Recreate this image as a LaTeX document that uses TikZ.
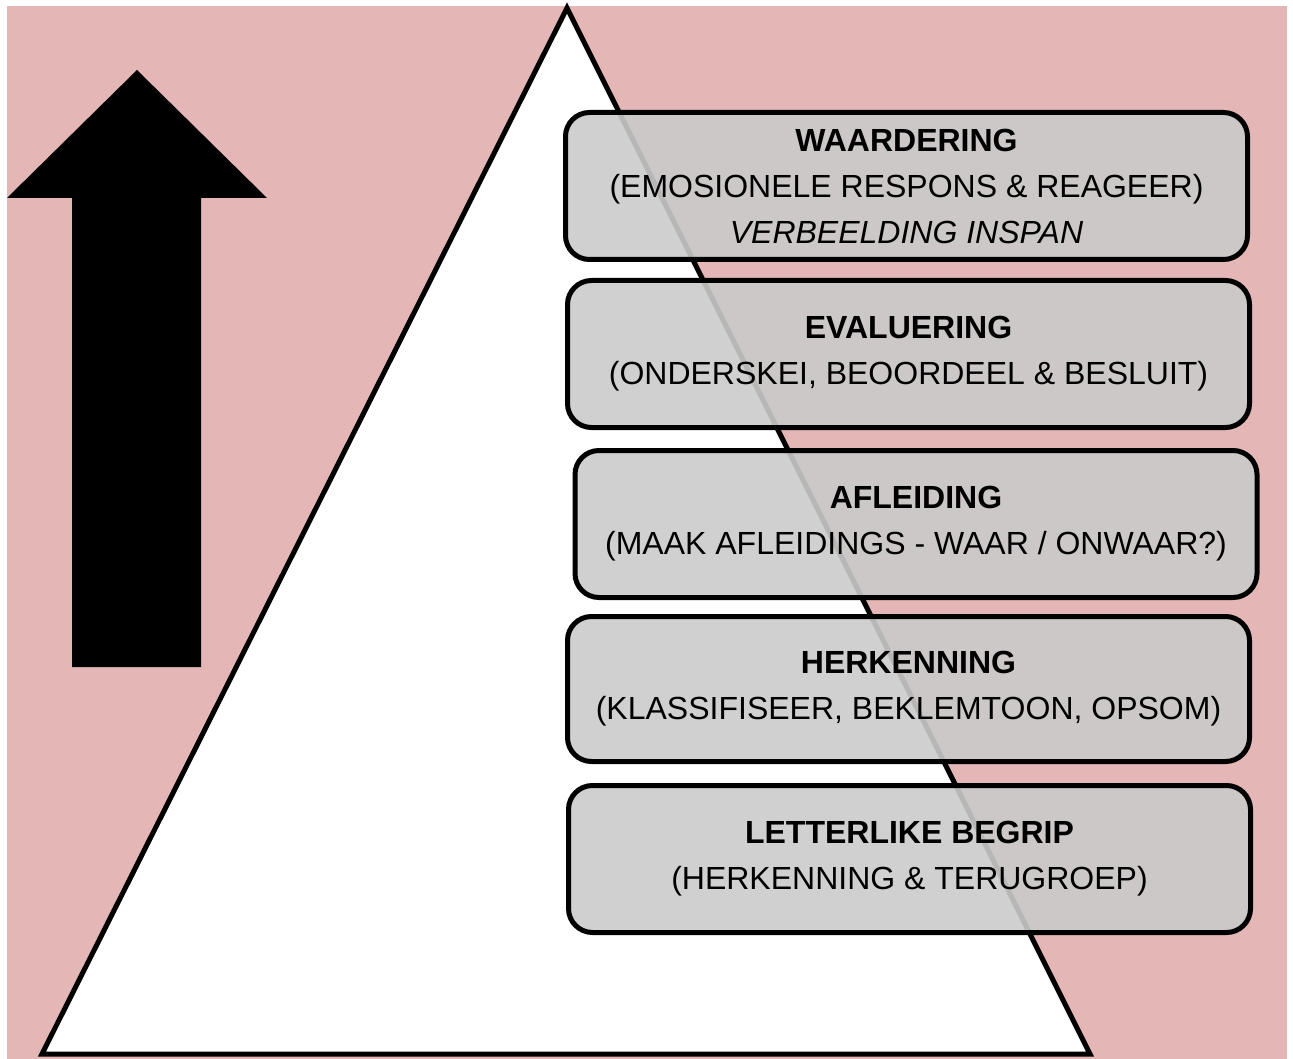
\documentclass[tikz,border=0pt]{standalone}
\usepackage{fontspec}
\setmainfont{Liberation Sans}
\usetikzlibrary{positioning}
\definecolor{bgpink}{HTML}{E4B6B6}
\definecolor{boxgrey}{HTML}{CBCBCB}
\tikzstyle{level} = [rectangle, draw, line width=5pt, fill=boxgrey, fill opacity=0.9, text opacity=1, text centered, align=center, rounded corners=24pt, minimum width=682pt, minimum height=147pt, font=\fontsize{32}{46}\selectfont]
\tikzstyle{pyramid} = [line width=5pt, line join=miter]

\begin{document}
\begin{tikzpicture}[x=1pt, y=-1pt]
    \useasboundingbox (0,0) rectangle (1293,1059);
    \fill [bgpink] (7,6) rectangle (1287,1059);
    % arrow
    \fill [black] (137,70) -- (267,198) -- (201,198) -- (201,667) -- (72,667) -- (72,198) -- (7,198) -- cycle;
    % pyramid
    \draw [pyramid, fill=white] (567,8) -- (1090,1054) -- (42,1054) -- cycle;
    % levels
    \node [level] (waardering) at (906.5,186) {\textbf{WAARDERING}\\(EMOSIONELE RESPONS \& REAGEER)\\\textit{VERBEELDING INSPAN}};
    \node [level, below=16pt of waardering, xshift=2pt] (evaluering) {\textbf{EVALUERING}\\(ONDERSKEI, BEOORDEEL \& BESLUIT)};
    \node [level, below=18pt of evaluering, xshift=7.5pt] (afleiding) {\textbf{AFLEIDING}\\(MAAK AFLEIDINGS - WAAR / ONWAAR?)};
    \node [level, below=14pt of afleiding, xshift=-7.5pt, minimum height=145pt] (herkenning) {\textbf{HERKENNING}\\(KLASSIFISEER, BEKLEMTOON, OPSOM)};
    \node [level, below=19pt of herkenning, xshift=1pt] (letterlik) {\textbf{LETTERLIKE BEGRIP}\\(HERKENNING \& TERUGROEP)};
\end{tikzpicture}
\end{document}
